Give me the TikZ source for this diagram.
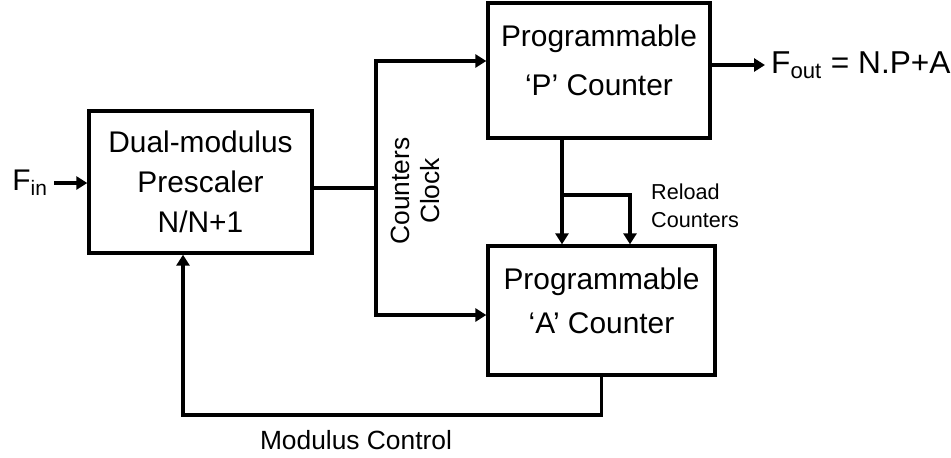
\documentclass[tikz,border=0pt]{standalone}
\usepackage{fontspec}
\setmainfont{Liberation Sans}
\usepackage{tikz}
\usetikzlibrary{arrows.meta, positioning, calc}
\tikzset{
  blockbox/.style={
    draw, line width=1.9pt, fill=white, inner sep=0pt
  },
  blocktext/.style={
    align=center, font=\fontsize{17}{22.7}\selectfont
  },
  sigline/.style={line width=1.9pt},
  sigarrow/.style={
    -{Triangle[length=2.2mm, width=2.6mm]}, line width=1.9pt
  },
  siglabel/.style={
    font=\fontsize{17}{20}\selectfont
  },
  smalllabel/.style={
    align=left, font=\fontsize{12.3}{16}\selectfont
  },
}
\begin{document}
\begin{tikzpicture}
  \useasboundingbox (0,0) rectangle (19.02,-9.14);

  % === Blocks ===
  \node[blockbox, minimum width=4.46cm, minimum height=2.84cm] (pre) at (4.01,-3.64) {};
  \node[blocktext] (pretext) at (pre.center) {Dual-modulus\\Prescaler\\N/N+1};

  \node[blockbox, minimum width=4.44cm, minimum height=2.7cm] (pbox) at (11.98,-1.41) {};
  \node[blocktext, font=\fontsize{17}{28}\selectfont, yshift=0.2cm] (ptext) at (pbox.center)
    {Programmable\\`P' Counter};

  \node[blockbox, minimum width=4.54cm, minimum height=2.58cm] (abox) at (12.03,-6.21) {};
  \node[blocktext, font=\fontsize{17}{25}\selectfont, yshift=0.19cm] (atext) at (abox.center)
    {Programmable\\`A' Counter};

  % === Input / output ===
  \node[siglabel, anchor=east] (fin) at (1.08,-3.66) {F\textsubscript{in}};
  \draw[sigarrow] (fin.east) -- (fin.east -| pre.west);

  \coordinate (pout) at ([yshift=0.11cm]pbox.east);
  \coordinate (foutpt) at (15.3,-1.3);
  \node[siglabel, anchor=west, font=\fontsize{18}{20}\selectfont] (fout) at (foutpt)
    {F\textsubscript{out} = N.P+A};
  \draw[sigarrow] (pout) -- (pout -| fout.west);

  % === Counters clock ===
  \coordinate (clk) at (7.52,-3.76);
  \coordinate (ptap) at (7.52,-1.22);
  \coordinate (atap) at (7.52,-6.3);
  \draw[sigline] (pre.east |- clk) -- (clk);
  \draw[sigarrow] (clk) -- (ptap) -- (ptap -| pbox.west);
  \draw[sigarrow] (clk) -- (atap) -- (atap -| abox.west);
  \node[siglabel, align=center, rotate=90, font=\fontsize{15}{17}\selectfont] (clklabel)
    at (8.3,-3.82) {Counters\\Clock};

  % === Reload ===
  \coordinate (rtap) at (11.24,-3.9);
  \coordinate (rright) at (12.6,-3.9);
  \draw[sigarrow] (rtap |- pbox.south) -- (rtap |- abox.north);
  \draw[sigarrow] (rtap) -- (rright) -- (rright |- abox.north);
  \node[smalllabel] (reload) at (13.9,-4.12) {Reload\\Counters};

  % === Modulus control ===
  \coordinate (mtap) at (3.66,-8.3);
  \draw[sigarrow] (abox.south) |- (mtap) -- (mtap |- pre.south);
  \node[siglabel, font=\fontsize{15}{17}\selectfont] (modlabel) at (7.12,-8.8) {Modulus Control};

\end{tikzpicture}
\end{document}
